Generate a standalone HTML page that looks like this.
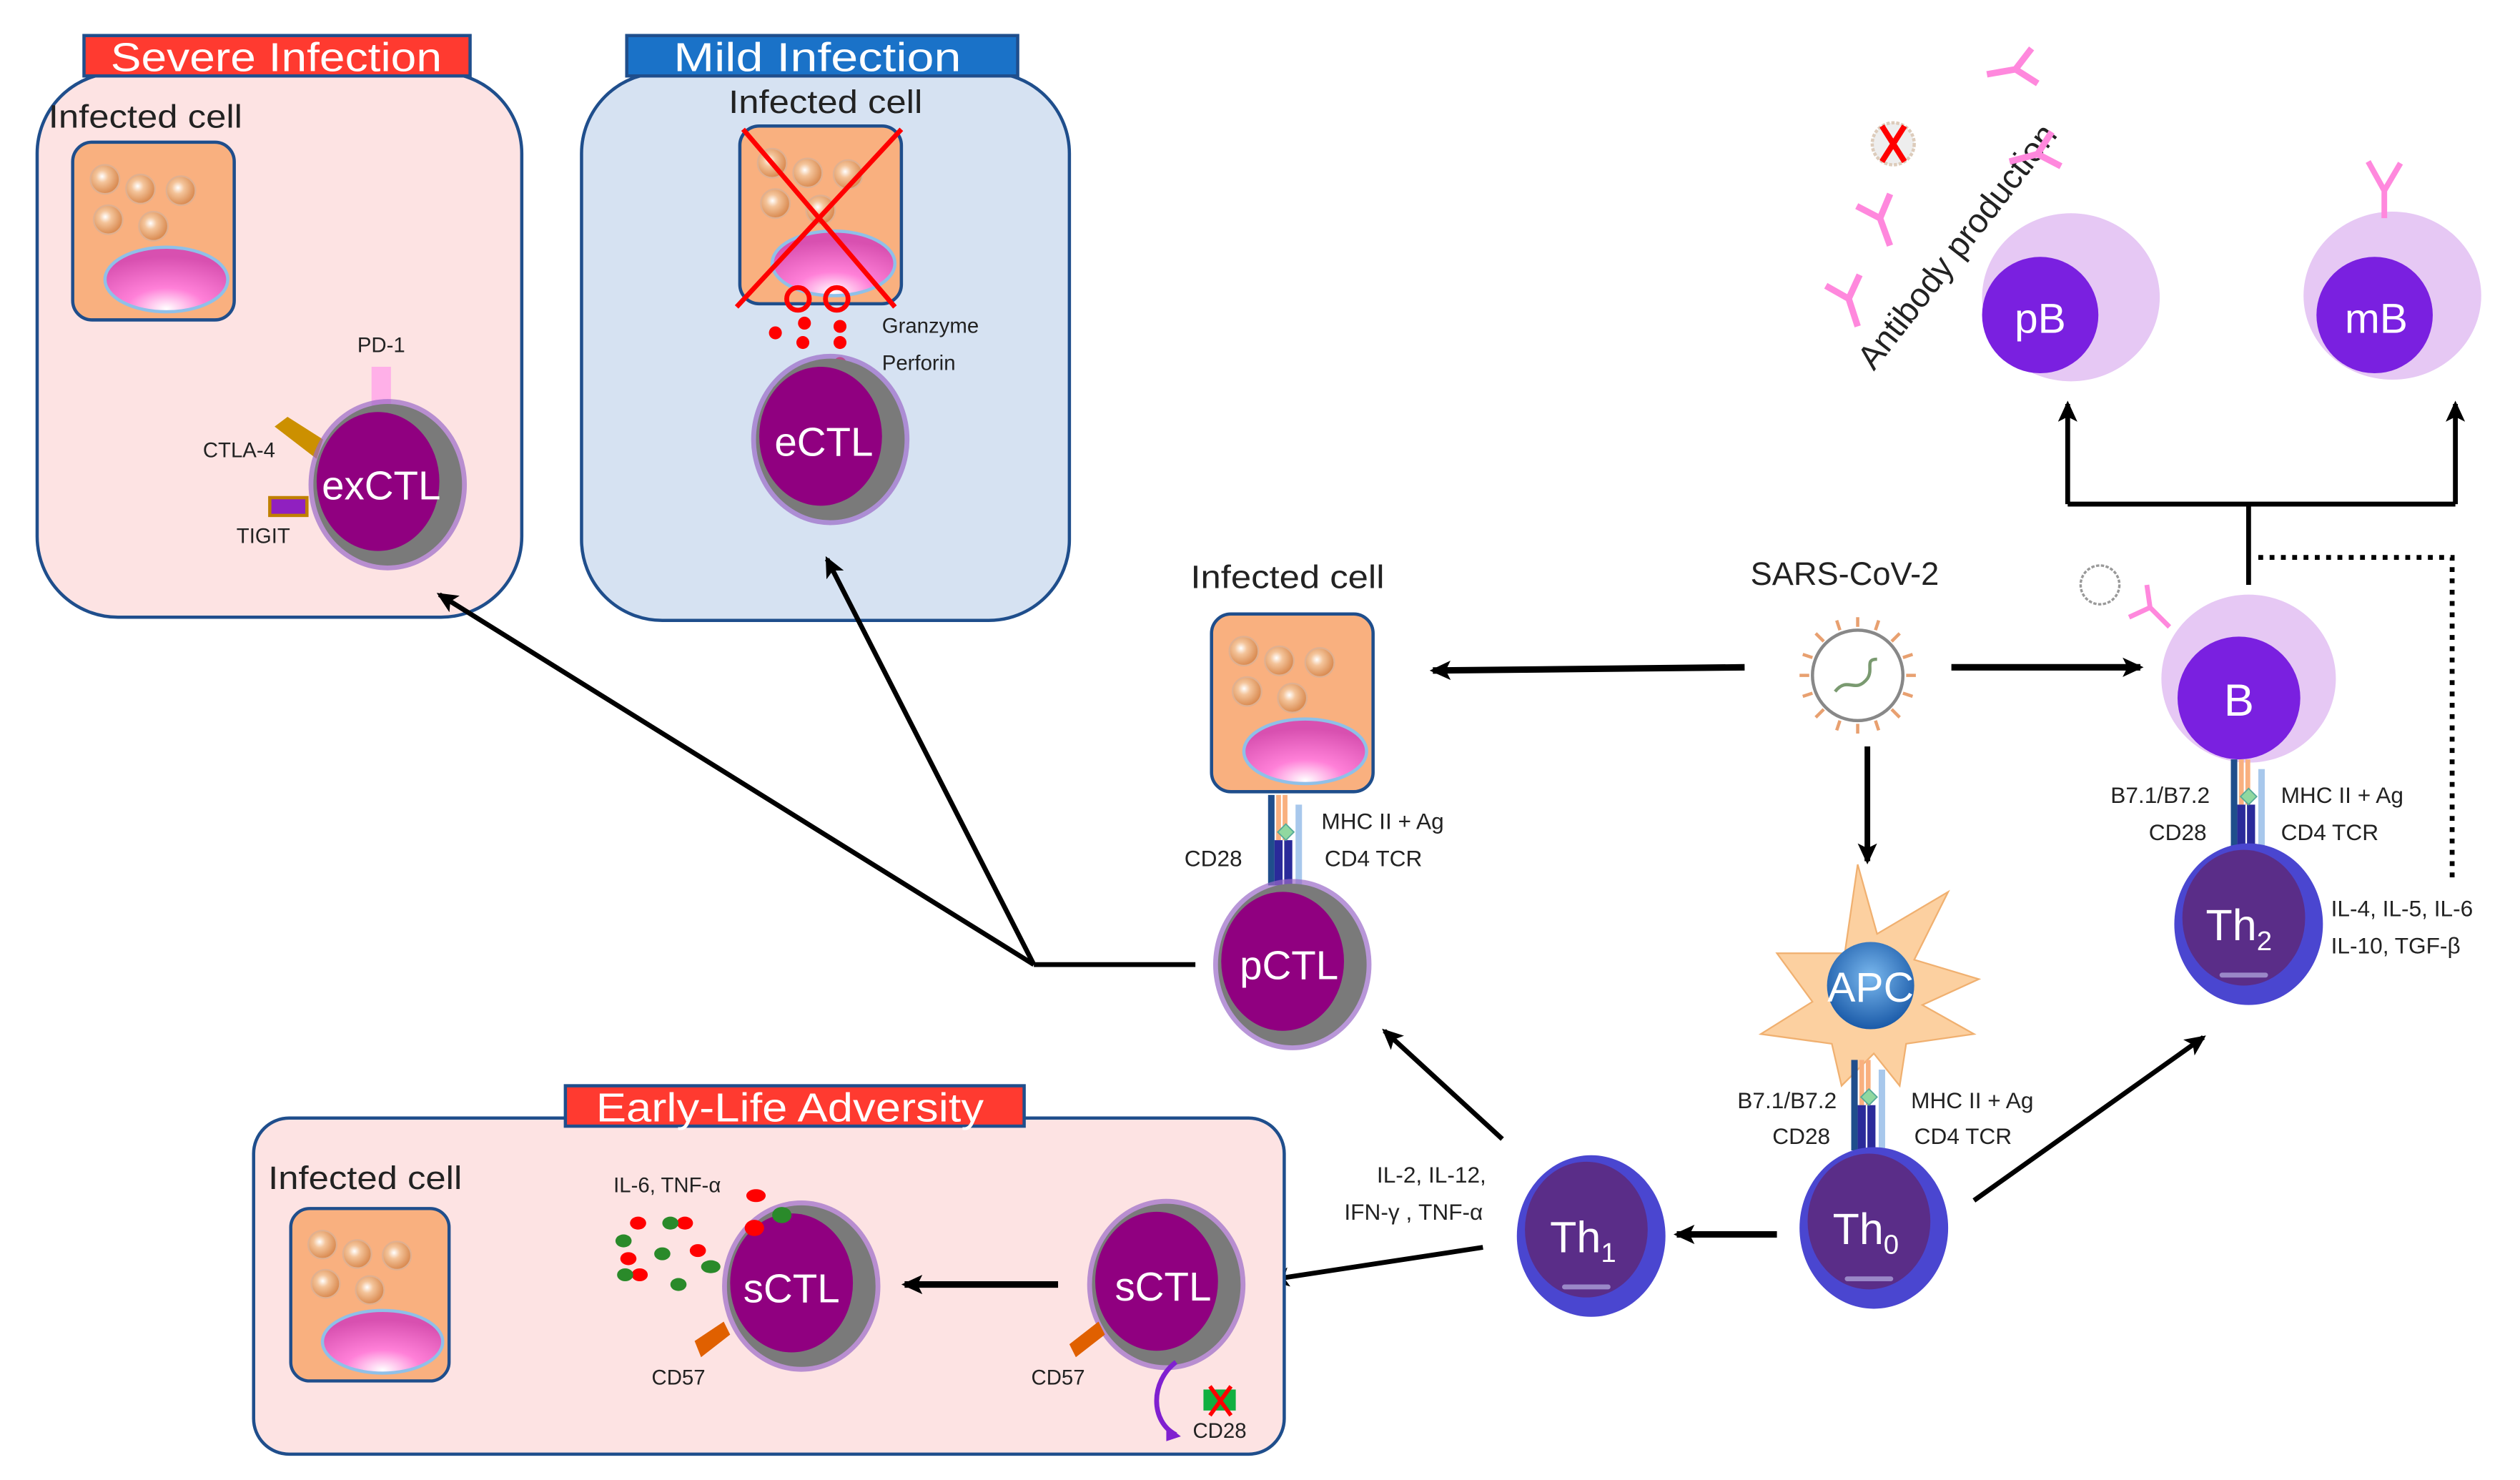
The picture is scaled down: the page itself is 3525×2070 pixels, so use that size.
<!DOCTYPE html>
<html><head><meta charset="utf-8"><style>
html,body{margin:0;padding:0;background:#fff;}
svg{display:block;}
text{font-family:"Liberation Sans",sans-serif;}
</style></head><body>
<svg width="3525" height="2070" viewBox="0 0 1560 916" preserveAspectRatio="none" xmlns="http://www.w3.org/2000/svg">
<defs>
<radialGradient id="bub" cx="40%" cy="40%" r="60%"><stop offset="0" stop-color="#fff"/><stop offset="0.35" stop-color="#f4c49a"/><stop offset="1" stop-color="#d98a50"/></radialGradient>
<radialGradient id="dome" cx="50%" cy="95%" r="80%"><stop offset="0" stop-color="#fff"/><stop offset="0.4" stop-color="#ff80d8"/><stop offset="1" stop-color="#d850b0"/></radialGradient>
<radialGradient id="apc" cx="50%" cy="40%" r="60%"><stop offset="0" stop-color="#7ab8ee"/><stop offset="1" stop-color="#1a5aa8"/></radialGradient>
<marker id="ah2" markerWidth="14" markerHeight="12" refX="11" refY="6" orient="auto" markerUnits="userSpaceOnUse"><path d="M0,0 L13,6 L0,12 L3,6 Z" fill="#000"/></marker>
<g id="inf">
<rect x="0" y="0" width="100" height="110" rx="12" fill="#f9b07f" stroke="#1f4e8c" stroke-width="2"/>
<circle cx="20" cy="23" r="9" fill="url(#bub)" stroke="#e0b090"/>
<circle cx="42" cy="29" r="9" fill="url(#bub)" stroke="#e0b090"/>
<circle cx="67" cy="30" r="9" fill="url(#bub)" stroke="#e0b090"/>
<circle cx="22" cy="48" r="9" fill="url(#bub)" stroke="#e0b090"/>
<circle cx="50" cy="52" r="9" fill="url(#bub)" stroke="#e0b090"/>
<ellipse cx="58" cy="85" rx="38" ry="20" fill="url(#dome)" stroke="#8fc0e8" stroke-width="2"/>
</g>
<g id="ctl">
<ellipse cx="0" cy="0" rx="49" ry="53" fill="#9a6ac8" opacity="0.7"/>
<ellipse cx="0" cy="0" rx="46" ry="50" fill="#7a7a7a"/>
<ellipse cx="-6" cy="-2" rx="38" ry="43" fill="#900080"/>
</g>
<g id="th">
<ellipse cx="0" cy="0" rx="46" ry="50" fill="#4a46d0"/>
<ellipse cx="-3" cy="-4" rx="38" ry="42" fill="#5a2d88"/>
<rect x="-18" y="30" width="30" height="3" rx="1.5" fill="#9a88c8"/>
</g>
<g id="rec">
<rect x="0" y="0" width="4" height="56" fill="#1f4e8c"/>
<rect x="5" y="0" width="3" height="28" fill="#f9b07f"/>
<rect x="9" y="0" width="3" height="28" fill="#f9b07f"/>
<rect x="4" y="28" width="5" height="28" fill="#2a2a9a"/>
<rect x="10" y="28" width="5" height="28" fill="#2a2a9a"/>
<rect x="17" y="6" width="4" height="50" fill="#a8c8ec"/>
<path d="M11,18 L16,23 L11,28 L6,23 Z" fill="#90d8a0" stroke="#5a9" stroke-width="0.8"/>
</g>
<g id="ab"><path d="M0,0 L0,-18 M0,-18 L-11,-30 M0,-18 L11,-30" stroke="#ff88dd" stroke-width="4" fill="none"/></g>
<g id="vir">
<circle cx="0" cy="0" r="28" fill="#fff" stroke="#888" stroke-width="2"/>
<g stroke="#e8a070" stroke-width="2">
<path d="M0,-30 L0,-36 M0,30 L0,36 M-30,0 L-36,0 M30,0 L36,0 M21,21 L26,26 M-21,-21 L-26,-26 M21,-21 L26,-26 M-21,21 L-26,26 M11,-28 L13,-34 M-11,-28 L-13,-34 M11,28 L13,34 M-11,28 L-13,34 M28,11 L34,13 M28,-11 L34,-13 M-28,11 L-34,13 M-28,-11 L-34,-13"/>
</g>
<path d="M-14,10 C-6,0 -2,12 6,2 C10,-4 4,-10 12,-10" stroke="#7a9a70" stroke-width="2" fill="none"/>
</g>
</defs>

<!-- Severe infection -->
<rect x="23" y="45" width="300" height="337" rx="50" fill="#fde3e3" stroke="#1f4e8c" stroke-width="2"/>
<rect x="52" y="22" width="239" height="25" fill="#ff3a30" stroke="#1f4e8c" stroke-width="2"/>
<text x="171" y="44" font-size="25" fill="#fff" text-anchor="middle" textLength="205" lengthAdjust="spacingAndGlyphs">Severe Infection</text>
<text x="30" y="79" font-size="20" fill="#222" textLength="120" lengthAdjust="spacingAndGlyphs">Infected cell</text>
<use href="#inf" x="45" y="88"/>
<rect x="230" y="227" width="12" height="30" fill="#ffb0e8"/>
<text x="236" y="218" font-size="13" text-anchor="middle" fill="#222">PD-1</text>
<path d="M170,264 L178,258 L200,272 L196,284 Z" fill="#cc9000"/>
<text x="148" y="283" font-size="13" text-anchor="middle" fill="#222">CTLA-4</text>
<rect x="167" y="308" width="23" height="11" fill="#9020c0" stroke="#c08000" stroke-width="2"/>
<text x="163" y="336" font-size="13" text-anchor="middle" fill="#222">TIGIT</text>
<use href="#ctl" x="240" y="300"/>
<text x="236" y="309" font-size="25" fill="#fff" text-anchor="middle">exCTL</text>

<!-- Mild infection -->
<rect x="360" y="45" width="302" height="339" rx="50" fill="#d6e2f2" stroke="#1f4e8c" stroke-width="2"/>
<rect x="388" y="22" width="242" height="25" fill="#1a72c8" stroke="#1f4e8c" stroke-width="2"/>
<text x="506" y="44" font-size="25" fill="#fff" text-anchor="middle" textLength="178" lengthAdjust="spacingAndGlyphs">Mild Infection</text>
<text x="511" y="70" font-size="20" fill="#222" text-anchor="middle" textLength="120" lengthAdjust="spacingAndGlyphs">Infected cell</text>
<use href="#inf" x="458" y="78"/>
<path d="M460,80 L554,190 M558,80 L456,190" stroke="#ff0000" stroke-width="3" fill="none"/>
<circle cx="494" cy="185" r="7" fill="none" stroke="#f00" stroke-width="3"/>
<circle cx="518" cy="185" r="7" fill="none" stroke="#f00" stroke-width="3"/>
<g fill="#f00">
<circle cx="498" cy="200" r="4"/><circle cx="520" cy="202" r="4"/><circle cx="480" cy="206" r="4"/><circle cx="497" cy="212" r="4"/><circle cx="520" cy="212" r="4"/><circle cx="520" cy="225" r="4"/>
<circle cx="482" cy="242" r="4"/><circle cx="492" cy="236" r="4"/><circle cx="502" cy="233" r="4"/><circle cx="513" cy="232" r="4"/><circle cx="523" cy="235" r="4"/><circle cx="533" cy="239" r="4"/><circle cx="542" cy="241" r="4"/>
</g>
<text x="546" y="206" font-size="13" fill="#222">Granzyme</text>
<text x="546" y="229" font-size="13" fill="#222">Perforin</text>
<use href="#ctl" x="514" y="272"/>
<text x="510" y="282" font-size="25" fill="#fff" text-anchor="middle">eCTL</text>

<!-- arrows to boxes -->
<line x1="740" y1="597" x2="640" y2="597" stroke="#000" stroke-width="3"/>
<line x1="640" y1="597" x2="272" y2="368" stroke="#000" stroke-width="3" marker-end="url(#ah2)"/>
<line x1="640" y1="597" x2="512" y2="346" stroke="#000" stroke-width="3" marker-end="url(#ah2)"/>

<!-- middle infected cell & pCTL -->
<text x="797" y="364" font-size="20" fill="#222" text-anchor="middle" textLength="120" lengthAdjust="spacingAndGlyphs">Infected cell</text>
<use href="#inf" x="750" y="380"/>
<use href="#rec" x="785" y="492"/>
<text x="818" y="513" font-size="14" fill="#222">MHC II + Ag</text>
<text x="820" y="536" font-size="14" fill="#222">CD4 TCR</text>
<text x="769" y="536" font-size="14" fill="#222" text-anchor="end">CD28</text>
<use href="#ctl" x="800" y="597"/>
<text x="798" y="606" font-size="25" fill="#fff" text-anchor="middle">pCTL</text>

<!-- SARS-CoV-2 -->
<text x="1142" y="362" font-size="20" fill="#222" text-anchor="middle">SARS-CoV-2</text>
<use href="#vir" x="1150" y="418"/>
<line x1="1080" y1="413" x2="887" y2="415" stroke="#000" stroke-width="4" marker-end="url(#ah2)"/>
<line x1="1208" y1="413" x2="1325" y2="413" stroke="#000" stroke-width="4" marker-end="url(#ah2)"/>
<line x1="1156" y1="462" x2="1156" y2="533" stroke="#000" stroke-width="3.5" marker-end="url(#ah2)"/>

<!-- APC -->
<path d="M1150,535 L1162,578 L1206,552 L1185,594 L1225,606 L1190,622 L1222,640 L1180,646 L1176,672 L1160,652 L1140,672 L1134,646 L1090,640 L1122,620 L1100,590 L1142,590 Z" fill="#fcd0a0" stroke="#f0b070"/>
<circle cx="1158" cy="610" r="27" fill="url(#apc)"/>
<text x="1158" y="620" font-size="26" fill="#fff" text-anchor="middle">APC</text>
<use href="#rec" x="1146" y="656"/>
<text x="1137" y="686" font-size="14" fill="#222" text-anchor="end">B7.1/B7.2</text>
<text x="1133" y="708" font-size="14" fill="#222" text-anchor="end">CD28</text>
<text x="1183" y="686" font-size="14" fill="#222">MHC II + Ag</text>
<text x="1185" y="708" font-size="14" fill="#222">CD4 TCR</text>
<use href="#th" x="1160" y="760"/>
<text x="1155" y="770" font-size="27" fill="#fff" text-anchor="middle">Th<tspan font-size="17" dy="6">0</tspan></text>
<use href="#th" x="985" y="765"/>
<text x="980" y="775" font-size="27" fill="#fff" text-anchor="middle">Th<tspan font-size="17" dy="6">1</tspan></text>
<line x1="1100" y1="764" x2="1038" y2="764" stroke="#000" stroke-width="4" marker-end="url(#ah2)"/>
<line x1="1222" y1="743" x2="1364" y2="642" stroke="#000" stroke-width="3" marker-end="url(#ah2)"/>
<line x1="930" y1="705" x2="857" y2="638" stroke="#000" stroke-width="3" marker-end="url(#ah2)"/>
<line x1="918" y1="772" x2="787" y2="792" stroke="#000" stroke-width="3" marker-end="url(#ah2)"/>
<text x="920" y="732" font-size="14" fill="#222" text-anchor="end">IL-2, IL-12,</text>
<text x="918" y="755" font-size="14" fill="#222" text-anchor="end">IFN-γ , TNF-α</text>

<!-- B and Th2 -->
<path d="M1398,345 L1518,345 L1518,545" stroke="#000" stroke-width="3" stroke-dasharray="3,4" fill="none"/>
<line x1="1392" y1="362" x2="1392" y2="311" stroke="#000" stroke-width="3"/>
<path d="M1280,312 L1520,312" stroke="#000" stroke-width="3"/>
<line x1="1280" y1="312" x2="1280" y2="250" stroke="#000" stroke-width="3" marker-end="url(#ah2)"/>
<line x1="1520" y1="312" x2="1520" y2="250" stroke="#000" stroke-width="3" marker-end="url(#ah2)"/>
<ellipse cx="1392" cy="420" rx="54" ry="52" fill="#e6c8f4"/>
<circle cx="1386" cy="432" r="38" fill="#7a20e0"/>
<text x="1386" y="443" font-size="28" fill="#fff" text-anchor="middle">B</text>
<circle cx="1300" cy="362" r="12" fill="#fff" stroke="#999" stroke-width="1.5" stroke-dasharray="2,1"/>
<path d="M1343,388 L1331,376 M1331,376 L1318,382 M1331,376 L1329,362" stroke="#ff88dd" stroke-width="3" fill="none"/>
<use href="#rec" x="1381" y="470"/>
<text x="1368" y="497" font-size="14" fill="#222" text-anchor="end">B7.1/B7.2</text>
<text x="1366" y="520" font-size="14" fill="#222" text-anchor="end">CD28</text>
<text x="1412" y="497" font-size="14" fill="#222">MHC II + Ag</text>
<text x="1412" y="520" font-size="14" fill="#222">CD4 TCR</text>
<use href="#th" x="1392" y="572"/>
<text x="1386" y="582" font-size="27" fill="#fff" text-anchor="middle">Th<tspan font-size="17" dy="6">2</tspan></text>
<text x="1443" y="567" font-size="14" fill="#222">IL-4, IL-5, IL-6</text>
<text x="1443" y="590" font-size="14" fill="#222">IL-10, TGF-β</text>

<!-- pB / mB -->
<ellipse cx="1282" cy="184" rx="55" ry="52" fill="#e6c8f4"/>
<circle cx="1263" cy="195" r="36" fill="#7a20e0"/>
<text x="1263" y="206" font-size="26" fill="#fff" text-anchor="middle">pB</text>
<ellipse cx="1481" cy="183" rx="55" ry="52" fill="#e6c8f4"/>
<circle cx="1470" cy="195" r="36" fill="#7a20e0"/>
<text x="1471" y="206" font-size="26" fill="#fff" text-anchor="middle">mB</text>
<path d="M1476,135 L1476,118 M1476,118 L1466,100 M1476,118 L1486,101" stroke="#ff88dd" stroke-width="3.5" fill="none"/>
<text x="0" y="0" font-size="21" fill="#222" transform="translate(1160,230) rotate(-52)">Antibody production</text>
<g transform="translate(1230,46) rotate(80)"><use href="#ab"/></g>
<g transform="translate(1244,100) rotate(75)"><use href="#ab"/></g>
<g transform="translate(1170,152) rotate(-20)"><use href="#ab"/></g>
<g transform="translate(1150,202) rotate(-18)"><use href="#ab"/></g>
<circle cx="1172" cy="89" r="13" fill="#eee" stroke="#dcb" stroke-width="2" stroke-dasharray="2,1"/>
<path d="M1165,78 L1179,100 M1179,78 L1165,100" stroke="#f00" stroke-width="3.5"/>

<!-- Early-Life Adversity -->
<rect x="157" y="692" width="638" height="208" rx="22" fill="#fde3e3" stroke="#1f4e8c" stroke-width="2"/>
<rect x="350" y="672" width="284" height="25" fill="#ff3a30" stroke="#1f4e8c" stroke-width="2"/>
<text x="489" y="694" font-size="25" fill="#fff" text-anchor="middle" textLength="240" lengthAdjust="spacingAndGlyphs">Early-Life Adversity</text>
<text x="226" y="736" font-size="20" fill="#222" text-anchor="middle" textLength="120" lengthAdjust="spacingAndGlyphs">Infected cell</text>
<g transform="translate(180,748) scale(0.98,0.97)"><use href="#inf"/></g>
<use href="#ctl" x="496" y="796"/>
<text x="490" y="806" font-size="25" fill="#fff" text-anchor="middle">sCTL</text>
<use href="#ctl" x="722" y="795"/>
<text x="720" y="805" font-size="25" fill="#fff" text-anchor="middle">sCTL</text>
<path d="M430,830 L448,818 L452,826 L434,840 Z" fill="#e06000"/>
<path d="M662,832 L680,818 L684,826 L666,840 Z" fill="#e06000"/>
<text x="420" y="857" font-size="13" fill="#222" text-anchor="middle">CD57</text>
<text x="655" y="857" font-size="13" fill="#222" text-anchor="middle">CD57</text>
<text x="413" y="738" font-size="13" fill="#222" text-anchor="middle">IL-6, TNF-α</text>
<g fill="#f00"><ellipse cx="468" cy="740" rx="6" ry="4"/><ellipse cx="395" cy="757" rx="5" ry="4"/><ellipse cx="424" cy="757" rx="5" ry="4"/><ellipse cx="432" cy="774" rx="5" ry="4"/><ellipse cx="389" cy="779" rx="5" ry="4"/><ellipse cx="396" cy="789" rx="5" ry="4"/><ellipse cx="467" cy="760" rx="6" ry="5"/></g>
<g fill="#2a8a2a"><ellipse cx="415" cy="757" rx="5" ry="4"/><ellipse cx="386" cy="768" rx="5" ry="4"/><ellipse cx="410" cy="776" rx="5" ry="4"/><ellipse cx="440" cy="784" rx="6" ry="4"/><ellipse cx="387" cy="789" rx="5" ry="4"/><ellipse cx="420" cy="795" rx="5" ry="4"/><ellipse cx="484" cy="752" rx="6" ry="5"/></g>
<line x1="655" y1="795" x2="560" y2="795" stroke="#000" stroke-width="4" marker-end="url(#ah2)"/>
<path d="M728,843 C712,855 712,880 728,888" stroke="#8020d0" stroke-width="3" fill="none"/>
<path d="M722,882 L731,889 L722,892 Z" fill="#8020d0"/>
<rect x="745" y="860" width="20" height="13" fill="#10b040"/>
<path d="M749,858 L762,876 M762,858 L749,876" stroke="#f00" stroke-width="2.5"/>
<text x="755" y="890" font-size="13" fill="#222" text-anchor="middle">CD28</text>
</svg>
</body></html>
